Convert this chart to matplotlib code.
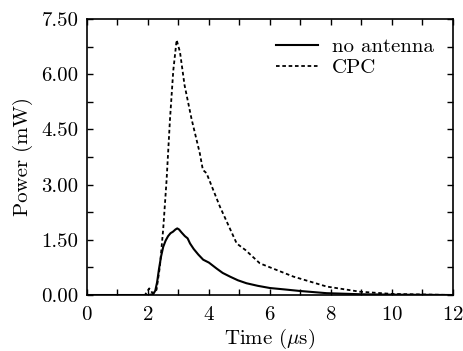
import matplotlib
matplotlib.use("Agg")
import matplotlib.pyplot as plt
from matplotlib.ticker import MultipleLocator, FormatStrFormatter

plt.rcParams['font.family'] = ['cmr10', 'DejaVu Serif']
plt.rcParams['mathtext.fontset'] = 'cm'
plt.rcParams['axes.formatter.use_mathtext'] = True

# no antenna
t_ant = [0.0, 1.0, 2.0, 2.17, 2.24, 2.30, 2.36, 2.43, 2.50, 2.58, 2.66, 2.74,
         2.82, 2.90, 2.96, 3.02, 3.10, 3.21, 3.30, 3.38, 3.50, 3.65, 3.81, 4.0,
         4.25, 4.45, 4.69, 4.95, 5.23, 5.6, 6.0, 6.5, 6.98, 7.86, 9.0, 10.0, 12.0]
p_ant = [0.0, 0.0, 0.0, 0.02, 0.12, 0.35, 0.70, 1.05, 1.31, 1.48, 1.60, 1.68,
         1.72, 1.78, 1.81, 1.78, 1.70, 1.60, 1.54, 1.40, 1.25, 1.10, 0.96, 0.88,
         0.72, 0.60, 0.50, 0.40, 0.32, 0.25, 0.19, 0.15, 0.11, 0.05, 0.02, 0.01,
         0.0]

# CPC
t_cpc = [0.0, 1.0, 1.9, 2.04, 2.15, 2.28, 2.39, 2.50, 2.61, 2.72, 2.83, 2.94,
         3.05, 3.20, 3.43, 3.70, 3.80, 3.92, 4.36, 4.91, 5.2, 5.67, 6.77, 7.86,
         8.95, 10.0, 12.0]
p_cpc = [0.0, 0.0, 0.0, 0.18, 0.05, 0.14, 0.77, 1.80, 3.12, 4.75, 6.10, 6.93,
         6.60, 5.70, 4.78, 3.85, 3.40, 3.31, 2.40, 1.40, 1.22, 0.86, 0.50, 0.23,
         0.09, 0.03, 0.0]

fig = plt.figure(figsize=(4.64, 3.51), dpi=100)
ax = fig.add_axes([0.1875, 0.1595, 0.7885, 0.7865])

ax.plot(t_ant, p_ant, color='black', lw=1.5, label='no antenna')
ax.plot(t_cpc, p_cpc, color='black', lw=1.3, ls=(0, (2, 1.5)), label='CPC')

ax.set_xlim(0, 12)
ax.set_ylim(0, 7.5)
ax.xaxis.set_major_locator(MultipleLocator(2))
ax.xaxis.set_minor_locator(MultipleLocator(1))
ax.yaxis.set_major_locator(MultipleLocator(1.5))
ax.yaxis.set_minor_locator(MultipleLocator(0.75))
ax.yaxis.set_major_formatter(FormatStrFormatter('%.2f'))
ax.tick_params(which='both', direction='in', top=True, right=True,
               labelsize=15, width=1, length=4)
ax.tick_params(axis='x', pad=8)
ax.tick_params(axis='y', pad=6)
for s in ax.spines.values():
    s.set_linewidth(1.2)

ax.set_xlabel(r'Time ($\mu$s)', fontsize=15, labelpad=2)
ax.set_ylabel('Power (mW)', fontsize=15, labelpad=6)
ax.legend(loc='upper right', frameon=False, fontsize=15, handlelength=2.0,
          handletextpad=0.7, borderaxespad=0.5, labelspacing=0.1)

fig.savefig('out.png', dpi=100)
